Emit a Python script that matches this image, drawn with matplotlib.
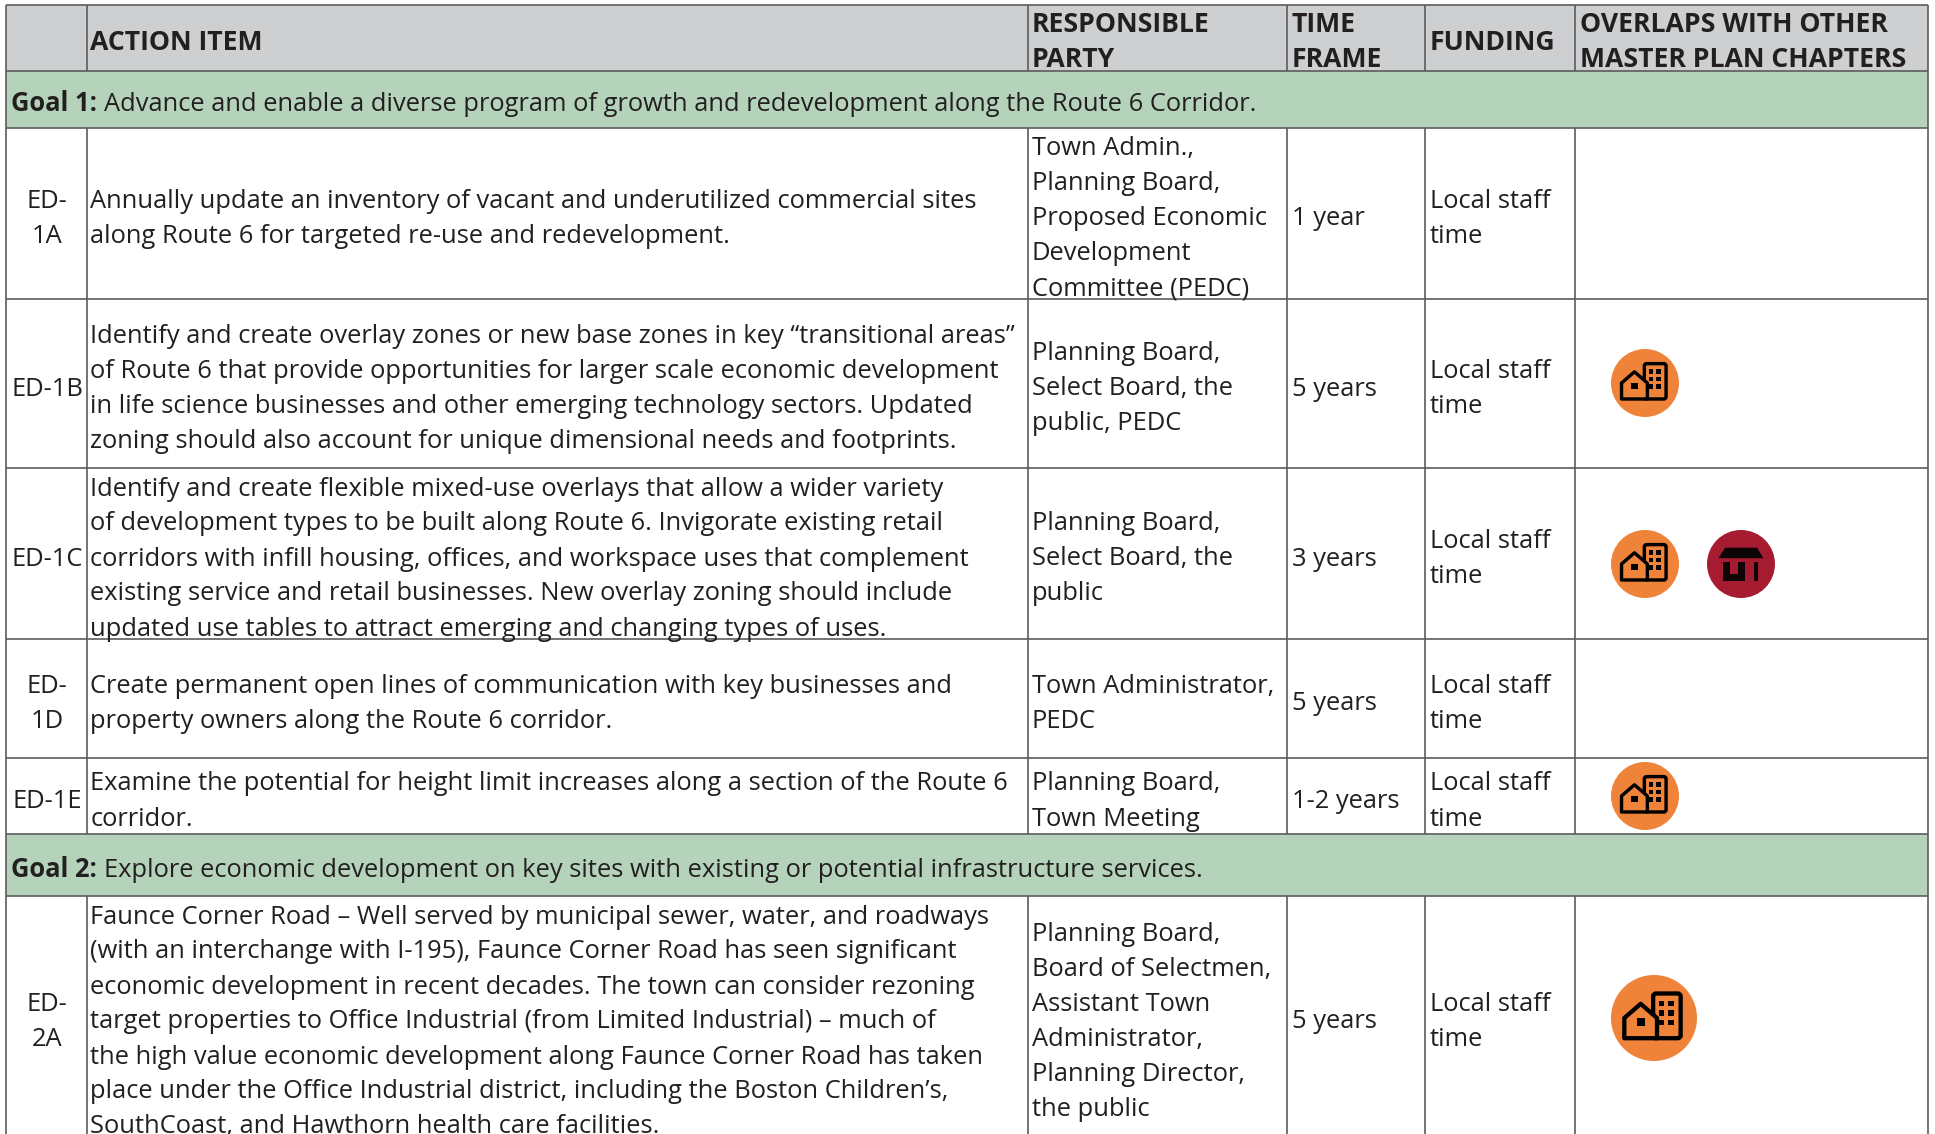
import matplotlib
matplotlib.use("Agg")
from matplotlib import pyplot as plt
from matplotlib.patches import Circle, FancyBboxPatch, Polygon, Rectangle

plt.rcParams['font.family'] = ['Open Sans', 'DejaVu Sans']

# table content
headers = [[""], ["ACTION ITEM"], ["RESPONSIBLE", "PARTY"], ["TIME", "FRAME"], ["FUNDING"],
           ["OVERLAPS WITH OTHER", "MASTER PLAN CHAPTERS"]]

goal_1 = ("Goal 1:", "Advance and enable a diverse program of growth and redevelopment along the Route 6 Corridor.")
goal_2 = ("Goal 2:", "Explore economic development on key sites with existing or potential infrastructure services.")

item_ids = [["ED-", "1A"], ["ED-1B"], ["ED-1C"], ["ED-", "1D"], ["ED-1E"], ["ED-", "2A"]]

action_items = [
    ["Annually update an inventory of vacant and underutilized commercial sites",
     "along Route 6 for targeted re-use and redevelopment."],
    ["Identify and create overlay zones or new base zones in key \u201ctransitional areas\u201d",
     "of Route 6 that provide opportunities for larger scale economic development",
     "in life science businesses and other emerging technology sectors. Updated",
     "zoning should also account for unique dimensional needs and footprints."],
    ["Identify and create flexible mixed-use overlays that allow a wider variety",
     "of development types to be built along Route 6. Invigorate existing retail",
     "corridors with infill housing, offices, and workspace uses that complement",
     "existing service and retail businesses. New overlay zoning should include",
     "updated use tables to attract emerging and changing types of uses."],
    ["Create permanent open lines of communication with key businesses and",
     "property owners along the Route 6 corridor."],
    ["Examine the potential for height limit increases along a section of the Route 6",
     "corridor."],
    ["Faunce Corner Road \u2013 Well served by municipal sewer, water, and roadways",
     "(with an interchange with I-195), Faunce Corner Road has seen significant",
     "economic development in recent decades. The town can consider rezoning",
     "target properties to Office Industrial (from Limited Industrial) \u2013 much of",
     "the high value economic development along Faunce Corner Road has taken",
     "place under the Office Industrial district, including the Boston Children\u2019s,",
     "SouthCoast, and Hawthorn health care facilities."],
]

parties = [
    ["Town Admin.,", "Planning Board,", "Proposed Economic", "Development", "Committee (PEDC)"],
    ["Planning Board,", "Select Board, the", "public, PEDC"],
    ["Planning Board,", "Select Board, the", "public"],
    ["Town Administrator,", "PEDC"],
    ["Planning Board,", "Town Meeting"],
    ["Planning Board,", "Board of Selectmen,", "Assistant Town", "Administrator,", "Planning Director,", "the public"],
]

time_frames = ["1 year", "5 years", "3 years", "5 years", "1-2 years", "5 years"]
funding = ["Local staff", "time"]

# layout in pixels of the page
WIDTH, HEIGHT = 1935, 1134
col_edges = [6, 87, 1028, 1287, 1425, 1575, 1928]
text_x = [47, 90.5, 1032, 1292, 1430, 1580]
row_edges = [5, 70.5, 127.5, 299, 468, 639, 758, 834, 896, 1137]
item_rows = [(2, 3), (3, 4), (4, 5), (5, 6), (6, 7), (8, 9)]
LINE_PITCH = 35
FONT_SIZE = 18.4
HEADER_SIZE = 19.2

ORANGE = '#F0833A'
RED = '#A51C30'
LINE = '#5c5c5e'
INK = '#231F20'


def draw_lines(ax, lines, x, top, bottom, ha='left', **kwargs):
    center = (top + bottom) / 2 + 3
    first = center - LINE_PITCH * (len(lines) - 1) / 2
    for i, line in enumerate(lines):
        ax.text(x, first + i * LINE_PITCH + 9, line, ha=ha, va='baseline', color=INK,
                fontsize=kwargs.get('fontsize', FONT_SIZE), fontweight=kwargs.get('fontweight', 'normal'))


def draw_goal(ax, fig, goal, top, bottom):
    y = (top + bottom) / 2 + 3 + 9
    label = ax.text(11, y, goal[0], va='baseline', color=INK, fontsize=FONT_SIZE, fontweight='bold')
    box = label.get_window_extent(fig.canvas.get_renderer())
    ax.text(box.x1 + 7, y, goal[1], va='baseline', color=INK, fontsize=FONT_SIZE)


def housing_icon(ax, cx, cy, r):
    lw = r * 0.1 * 0.72
    ax.add_patch(Circle((cx, cy), r, color=ORANGE, lw=0))
    # building behind the house
    ax.add_patch(FancyBboxPatch((cx - 0.02 * r, cy - 0.57 * r), 0.64 * r, 1.04 * r,
                                boxstyle=f"round,pad=0,rounding_size={0.07 * r}",
                                fc=ORANGE, ec='black', lw=lw))
    for wx in [0.17, 0.40]:
        for wy in [-0.34, -0.12, 0.10]:
            ax.add_patch(Rectangle((cx + (wx - 0.065) * r, cy + (wy - 0.065) * r), 0.13 * r, 0.13 * r,
                                   fc='black', lw=0))
    house = [(-0.69, 0.47), (-0.69, 0.0), (-0.31, -0.33), (0.07, 0.0), (0.07, 0.47)]
    ax.add_patch(Polygon([(cx + px * r, cy + py * r) for px, py in house], closed=True,
                         fc=ORANGE, ec='black', lw=lw, joinstyle='round'))
    ax.add_patch(Rectangle((cx - 0.40 * r, cy + 0.01 * r), 0.18 * r, 0.18 * r, fc='black', lw=0))


def retail_icon(ax, cx, cy, r):
    ax.add_patch(Circle((cx, cy), r, color=RED, lw=0))
    roof = [(-0.47, -0.48), (0.47, -0.48), (0.66, -0.17), (-0.66, -0.17)]
    ax.add_patch(Polygon([(cx + px * r, cy + py * r) for px, py in roof], closed=True, fc='#0d0506', lw=0))
    ax.add_patch(Rectangle((cx - 0.52 * r, cy - 0.05 * r), 0.64 * r, 0.54 * r, fc='#0d0506', lw=0))
    ax.add_patch(Rectangle((cx - 0.32 * r, cy - 0.05 * r), 0.24 * r, 0.34 * r, fc=RED, lw=0))
    ax.add_patch(Rectangle((cx + 0.38 * r, cy - 0.05 * r), 0.13 * r, 0.54 * r, fc='#0d0506', lw=0))


def main():
    fig = plt.figure(figsize=(WIDTH / 100, HEIGHT / 100), dpi=100)
    ax = fig.add_axes([0, 0, 1, 1])
    ax.set_xlim(0, WIDTH)
    ax.set_ylim(HEIGHT, 0)
    ax.axis('off')

    left, right = col_edges[0], col_edges[-1]

    # band backgrounds
    ax.add_patch(Rectangle((left, row_edges[0]), right - left, row_edges[1] - row_edges[0], fc='#CDCFD1', lw=0))
    for top, bottom in [(row_edges[1], row_edges[2]), (row_edges[7], row_edges[8])]:
        ax.add_patch(Rectangle((left, top), right - left, bottom - top, fc='#B5D3BB', lw=0))

    # grid lines, the goal bands have no inner columns
    ax.hlines(row_edges, left, right, color=LINE, lw=1.2)
    spans = [(row_edges[0], row_edges[1]), (row_edges[2], row_edges[7]), (row_edges[8], row_edges[9])]
    for top, bottom in spans:
        ax.vlines(col_edges[1:-1], top, bottom, color=LINE, lw=1.2)
    ax.vlines([left, right], row_edges[0], row_edges[9], color=LINE, lw=1.2)

    # header
    for col, lines in enumerate(headers):
        draw_lines(ax, lines, text_x[col], row_edges[0], row_edges[1], fontsize=HEADER_SIZE, fontweight='bold')

    draw_goal(ax, fig, goal_1, row_edges[1], row_edges[2])
    draw_goal(ax, fig, goal_2, row_edges[7], row_edges[8])

    for i, (a, b) in enumerate(item_rows):
        top, bottom = row_edges[a], row_edges[b]
        draw_lines(ax, item_ids[i], text_x[0], top, bottom, ha='center')
        draw_lines(ax, action_items[i], text_x[1], top, bottom)
        draw_lines(ax, parties[i], text_x[2], top, bottom)
        draw_lines(ax, [time_frames[i]], text_x[3], top, bottom)
        draw_lines(ax, funding, text_x[4], top, bottom)

    # chapter icons
    housing_icon(ax, 1645, 383, 34)
    housing_icon(ax, 1645, 564, 34)
    retail_icon(ax, 1741, 564, 34)
    housing_icon(ax, 1645, 796, 34)
    housing_icon(ax, 1654, 1018, 43)

    plt.savefig('out.png', dpi=100)


if __name__ == "__main__":
    main()
